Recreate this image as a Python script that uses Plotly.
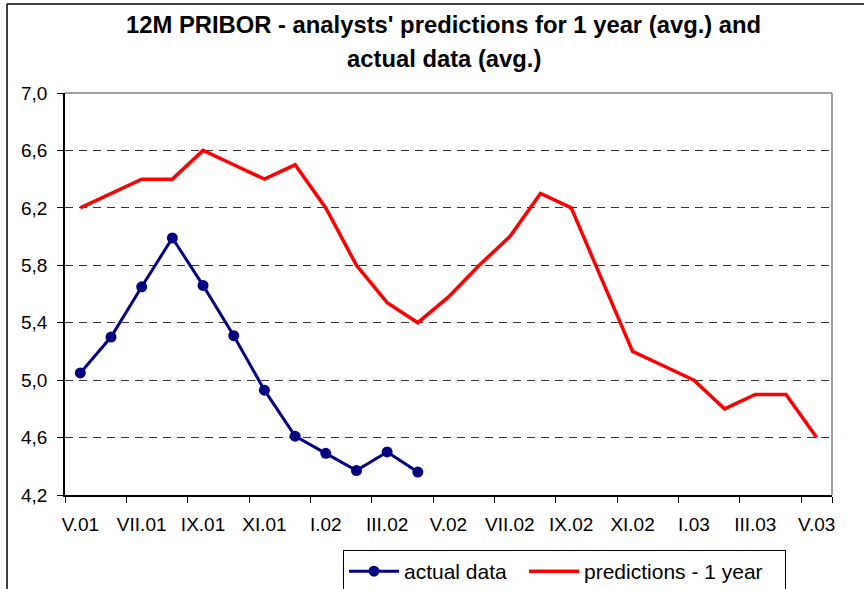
import plotly.graph_objects as go

months = ["V.01", "VI.01", "VII.01", "VIII.01", "IX.01", "X.01", "XI.01", "XII.01",
          "I.02", "II.02", "III.02", "IV.02", "V.02", "VI.02", "VII.02", "VIII.02",
          "IX.02", "X.02", "XI.02", "XII.02", "I.03", "II.03", "III.03", "IV.03", "V.03"]
actual = [5.05, 5.30, 5.65, 5.99, 5.66, 5.31, 4.93, 4.61, 4.49, 4.37, 4.50, 4.36]
predictions = [6.2, 6.3, 6.4, 6.4, 6.6, 6.5, 6.4, 6.5, 6.2, 5.8, 5.54, 5.4, 5.58,
               5.8, 6.0, 6.3, 6.2, 5.7, 5.2, 5.1, 5.0, 4.8, 4.9, 4.9, 4.6]
y_ticks = [4.2, 4.6, 5.0, 5.4, 5.8, 6.2, 6.6, 7.0]

xi = list(range(len(months)))
label_idx = xi[::2]
boundary = [i - 0.5 for i in xi[::2]]

FONT = "Arial, Liberation Sans, sans-serif"

fig = go.Figure()
fig.add_trace(go.Scatter(
    x=xi[:len(actual)], y=actual, name="actual data", mode="lines+markers",
    line=dict(color="#000080", width=3), marker=dict(size=11, color="#000080"),
    legendwidth=115))
fig.add_trace(go.Scatter(
    x=xi, y=predictions, name="predictions - 1 year", mode="lines",
    line=dict(color="#FF0000", width=3.5), legendwidth=196))

fig.update_layout(
    width=864, height=589,
    margin=dict(l=65, r=32, t=93, b=94, autoexpand=False),
    paper_bgcolor="white", plot_bgcolor="white",
    separators=", ",
    font=dict(family=FONT, size=19, color="black"),
    showlegend=True,
    legend=dict(orientation="h", xref="container", yref="container",
                x=343 / 864, xanchor="left", y=1 - 550 / 589, yanchor="top",
                bordercolor="black", borderwidth=1, bgcolor="white",
                font=dict(size=21, family=FONT), itemwidth=50,
                entrywidthmode="pixels"),
    annotations=[
        dict(text="<b>12M PRIBOR - analysts' predictions for 1 year (avg.) and</b>",
             xref="paper", yref="paper", x=0.494, y=(495 - 40) / 402, xanchor="center",
             yanchor="bottom", showarrow=False, font=dict(size=23.8, family=FONT)),
        dict(text="<b>actual data (avg.)</b>",
             xref="paper", yref="paper", x=0.494, y=(495 - 74) / 402, xanchor="center",
             yanchor="bottom", showarrow=False, font=dict(size=23.8, family=FONT)),
    ],
    shapes=[
        dict(type="line", xref="paper", yref="paper", x0=0, x1=1, y0=1, y1=1,
             line=dict(color="#808080", width=1.5)),
        dict(type="line", xref="paper", yref="paper", x0=1, x1=1, y0=0, y1=1,
             line=dict(color="#808080", width=1.5)),
        dict(type="line", xref="paper", yref="paper", x0=(7 - 65) / 767, x1=1.05,
             y0=(495 - 4) / 402, y1=(495 - 4) / 402, line=dict(color="black", width=1.5)),
        dict(type="line", xref="paper", yref="paper", x0=(7 - 65) / 767, x1=(7 - 65) / 767,
             y0=(495 - 4) / 402, y1=-0.25, line=dict(color="black", width=1.5)),
    ],
)

fig.update_xaxes(
    range=[-0.5, len(months) - 0.5], showgrid=False, zeroline=False, automargin=False,
    showline=True, linecolor="black", linewidth=1.5,
    tickmode="array", tickvals=label_idx, ticktext=[months[i] for i in label_idx],
    ticks="", tickfont=dict(size=19), ticklabelstandoff=11,
    minor=dict(tickmode="array", tickvals=boundary + [len(months) - 0.5],
               ticks="outside", ticklen=6, tickcolor="black", tickwidth=1, showgrid=False),
)
fig.update_yaxes(
    range=[4.2, 7.0], tickmode="array", tickvals=y_ticks, tickformat=".1f",
    automargin=False,
    showline=True, linecolor="black", linewidth=1.5, zeroline=False,
    ticks="outside", ticklen=6, tickcolor="black", tickwidth=1,
    showgrid=True, gridcolor="#333333", gridwidth=1, griddash="8px,6px",
    tickfont=dict(size=19), ticklabelstandoff=6,
)

fig.write_html("out.html", config={"displayModeBar": False},
               post_script="document.body.style.margin='0';document.body.style.overflow='hidden';")
